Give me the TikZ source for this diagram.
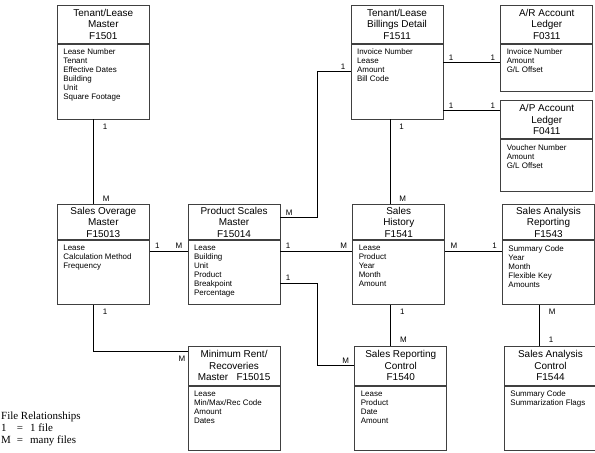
\documentclass[tikz,border=0pt]{standalone}
\usepackage{fontspec}
\setmainfont{Liberation Serif}
\setsansfont{Liberation Sans}
\usetikzlibrary{positioning}

\newcommand{\fieldlist}[2]{\parbox[c][#1][t]{80bp}{\raggedright #2}}

\tikzset{
  head/.style={draw=black!75, line width=0.7bp, minimum width=92bp, minimum height=#1,
    inner sep=0pt, align=center, font=\sffamily\fontsize{10}{11.5}\selectfont},
  head/.default=38bp,
  body/.style={draw=black!75, line width=0.7bp, minimum width=92bp, inner xsep=6bp,
    inner ysep=5bp, font=\sffamily\fontsize{8}{9}\selectfont},
  link/.style={draw, line width=0.8bp},
  lbl/.style={font=\sffamily\fontsize{8}{8}\selectfont, inner sep=0pt},
  hs/.style={lbl, pos=0, anchor=south west, xshift=5bp, yshift=2bp},
  he/.style={lbl, pos=1, anchor=south east, xshift=-5bp, yshift=2bp},
  vs/.style={lbl, pos=0, anchor=north west, xshift=9bp, yshift=-4bp},
  ve/.style={lbl, pos=1, anchor=south west, xshift=9bp, yshift=3bp}
}

\begin{document}
\begin{tikzpicture}[x=1bp, y=-1bp]
    \useasboundingbox (0,0) rectangle (595,453);

    % Files
    \node[head, anchor=north west] (f1501) at (57,5) {Tenant/Lease\\Master\\F1501};
    \node[body, below=0pt of f1501] (f1501b) {\fieldlist{65bp}{Lease Number\\Tenant\\Effective Dates\\Building\\Unit\\Square Footage}};
    \node[head, right=201bp of f1501] (f1511) {Tenant/Lease\\Billings Detail\\F1511};
    \node[body, below=0pt of f1511] (f1511b) {\fieldlist{65bp}{Invoice Number\\Lease\\Amount\\Bill Code}};
    \node[head, right=57bp of f1511] (f0311) {A/R Account\\Ledger\\F0311};
    \node[body, below=0pt of f0311] (f0311b) {\fieldlist{37bp}{Invoice Number\\Amount\\G/L Offset}};
    \node[head, below=9bp of f0311b] (f0411) {A/P Account\\Ledger\\F0411};
    \node[body, below=0pt of f0411] (f0411b) {\fieldlist{42bp}{Voucher Number\\Amount\\G/L Offset}};

    \node[head=35bp, below=85bp of f1501b] (f15013) {Sales Overage\\Master\\F15013};
    \node[body, below=0pt of f15013] (f15013b) {\fieldlist{54bp}{Lease\\Calculation Method\\Frequency}};
    \node[head=35bp, right=38bp of f15013] (f15014) {Product Scales\\Master\\F15014};
    \node[body, below=0pt of f15014] (f15014b) {\fieldlist{54bp}{Lease\\Building\\Unit\\Product\\Breakpoint\\Percentage}};
    \node[head=35bp, right=72bp of f15014] (f1541) {Sales\\History\\F1541};
    \node[body, below=0pt of f1541] (f1541b) {\fieldlist{54bp}{Lease\\Product\\Year\\Month\\Amount}};
    \node[head=35bp, right=57bp of f1541] (f1543) {Sales Analysis\\Reporting\\F1543};
    \node[body, below=0pt of f1543] (f1543b) {\fieldlist{54bp}{Summary Code\\Year\\Month\\Flexible Key\\Amounts}};

    \node[head=39bp, below=41bp of f15014b] (f15015) {Minimum Rent/\\Recoveries\\Master\ \ \ F15015};
    \node[body, below=0pt of f15015] (f15015b) {\fieldlist{54bp}{Lease\\Min/Max/Rec Code\\Amount\\Dates}};
    \node[head=39bp, below=41bp of f1541b, xshift=2bp] (f1540) {Sales Reporting\\Control\\F1540};
    \node[body, below=0pt of f1540] (f1540b) {\fieldlist{54bp}{Lease\\Product\\Date\\Amount}};
    \node[head=39bp, below=41bp of f1543b, xshift=2bp] (f1544) {Sales Analysis\\Control\\F1544};
    \node[body, below=0pt of f1544] (f1544b) {\fieldlist{54bp}{Summary Code\\Summarization Flags}};

    % Edges
    \draw[link] ([xshift=-10bp]f1501b.south) -- node[vs]{1} node[ve]{M} ([xshift=-10bp]f1501b.south |- f15013.north);
    \draw[link] ([yshift=-11bp]f15013b.north east) -- node[hs]{1} node[he]{M} ([yshift=-11bp]f15014b.north west);
    \draw[link] ([yshift=-11bp]f15014b.north east) -- node[hs]{1} node[he]{M} ([yshift=-11bp]f1541b.north west);
    \draw[link] ([yshift=-11bp]f1541b.north east) -- node[hs]{M} node[he]{1} ([yshift=-11bp]f1543b.north west);
    \draw[link] ([yshift=-13bp]f15014.north east) -- node[hs]{M} ++(37,0) |- node[he]{1} ([yshift=-28bp]f1511b.north west);
    \draw[link] ([yshift=-43bp]f15014b.north east) -- node[hs]{1} ++(37,0) |- node[he]{M} ([yshift=-20bp]f1540.north west);
    \draw[link] ([yshift=-19bp]f1511b.north east) -- node[hs]{1} node[he]{1} ([yshift=-19bp]f1511b.north east -| f0311b.west);
    \draw[link] ([yshift=-67bp]f1511b.north east) -- node[hs]{1} node[he]{1} ([yshift=-67bp]f1511b.north east -| f0411.west);
    \draw[link] ([xshift=-7bp]f1511b.south) -- node[vs]{1} node[ve]{M} ([xshift=-7bp]f1511b.south |- f1541.north);
    \draw[link] ([xshift=-8bp]f1541b.south) -- node[vs]{1} node[ve]{M} ([xshift=-8bp]f1541b.south |- f1540.north);
    \draw[link] ([xshift=-9bp]f1543b.south) -- node[vs]{M} node[ve]{1} ([xshift=-9bp]f1543b.south |- f1544.north);
    \draw[link] ([xshift=-10bp]f15013b.south) |- node[vs]{1}
      node[lbl, pos=1, anchor=north east, xshift=-2bp, yshift=-4bp]{M} ([yshift=-6bp]f15015.north west);

    % Legend
    \node[anchor=north west, inner sep=0pt, font=\fontsize{11}{12}\selectfont] (legend) at (1,411)
      {\begin{tabular}{@{}l@{\hspace{6bp}}l@{\hspace{7bp}}l@{}}
        \multicolumn{3}{@{}l}{File Relationships}\\
        1 & = & 1 file\\
        M & = & many files
      \end{tabular}};
\end{tikzpicture}
\end{document}
